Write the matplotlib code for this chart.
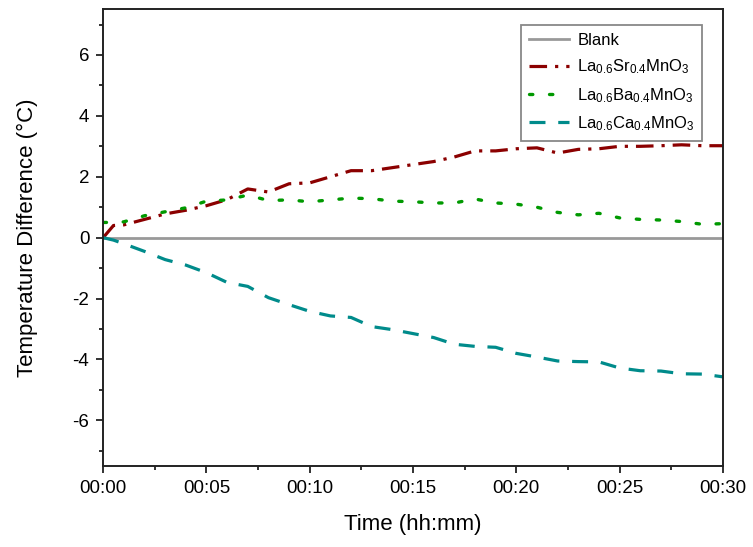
import matplotlib
matplotlib.use("Agg")
import matplotlib.pyplot as plt
from matplotlib.ticker import MultipleLocator, FuncFormatter

plt.rcParams['font.family'] = ['Liberation Sans', 'DejaVu Sans']
plt.rcParams['mathtext.fontset'] = 'custom'
plt.rcParams['mathtext.rm'] = 'Liberation Sans'
plt.rcParams['mathtext.it'] = 'Liberation Sans'
plt.rcParams['axes.unicode_minus'] = False

# time in minutes
minutes = [0, 0.5] + list(range(1, 31))

blank = [0.0] * len(minutes)

srValues = [0.0, 0.4, 0.42, 0.6, 0.78, 0.9, 1.05, 1.25, 1.6, 1.5, 1.77, 1.8,
            2.0, 2.2, 2.2, 2.3, 2.4, 2.5, 2.65, 2.85, 2.85, 2.92, 2.95, 2.78,
            2.9, 2.92, 3.0, 3.0, 3.02, 3.05, 3.02, 3.02]

baValues = [0.5, 0.5, 0.52, 0.72, 0.85, 0.98, 1.2, 1.24, 1.4, 1.22, 1.24, 1.18,
            1.24, 1.3, 1.28, 1.2, 1.18, 1.14, 1.14, 1.27, 1.14, 1.1, 1.0, 0.83,
            0.75, 0.8, 0.65, 0.6, 0.58, 0.53, 0.44, 0.46]

caValues = [0.0, -0.08, -0.2, -0.45, -0.72, -0.9, -1.15, -1.47, -1.6, -1.97,
            -2.2, -2.42, -2.57, -2.62, -2.92, -3.02, -3.15, -3.28, -3.5, -3.57,
            -3.6, -3.8, -3.92, -4.05, -4.07, -4.08, -4.28, -4.37, -4.38, -4.47,
            -4.48, -4.57]

labels = ['Blank',
          r'La$_{0.6}$Sr$_{0.4}$MnO$_3$',
          r'La$_{0.6}$Ba$_{0.4}$MnO$_3$',
          r'La$_{0.6}$Ca$_{0.4}$MnO$_3$']

fig = plt.figure(figsize=(7.53, 5.47), dpi=100)
ax = fig.add_axes([0.137, 0.148, 0.823, 0.835])

ax.plot(minutes, blank, color='#999999', lw=2.0, label=labels[0])
ax.plot(minutes, srValues, color='#8b0000', lw=2.3, label=labels[1],
        linestyle=(0, (5.5, 2.5, 1.0, 2.5)))
ax.plot(minutes, baValues, color='#009900', lw=2.4, label=labels[2],
        linestyle=(0, (1.0, 5.0)), dash_capstyle='round')
ax.plot(minutes, caValues, color='#008b8b', lw=2.3, label=labels[3],
        linestyle=(0, (5, 4)))

ax.set_xlim(0, 30)
ax.set_ylim(-7.5, 7.5)
ax.xaxis.set_major_locator(MultipleLocator(5))
ax.xaxis.set_minor_locator(MultipleLocator(2.5))
ax.yaxis.set_major_locator(MultipleLocator(2))
ax.yaxis.set_minor_locator(MultipleLocator(1))
ax.xaxis.set_major_formatter(FuncFormatter(lambda v, p: "00:%02d" % int(round(v))))

for side in ax.spines.values():
    side.set_linewidth(1.4)
    side.set_color('#222222')
ax.tick_params(which='both', direction='out', top=False, right=False,
               color='#222222', width=1.3, labelsize=13.5, pad=5)
ax.tick_params(which='major', length=5)
ax.tick_params(which='minor', length=3)

ax.set_xlabel('Time (hh:mm)', fontsize=16, labelpad=12)
ax.set_ylabel('Temperature Difference (°C)', fontsize=16, labelpad=25)

leg = ax.legend(loc='upper right', bbox_to_anchor=(0.972, 0.972), fontsize=12,
                handlelength=2.4, fancybox=False, framealpha=1,
                edgecolor='#888888', borderpad=0.45, labelspacing=0.58,
                handletextpad=0.5, borderaxespad=0.2)
leg.get_frame().set_linewidth(1.3)

fig.savefig('out.png', dpi=100)
